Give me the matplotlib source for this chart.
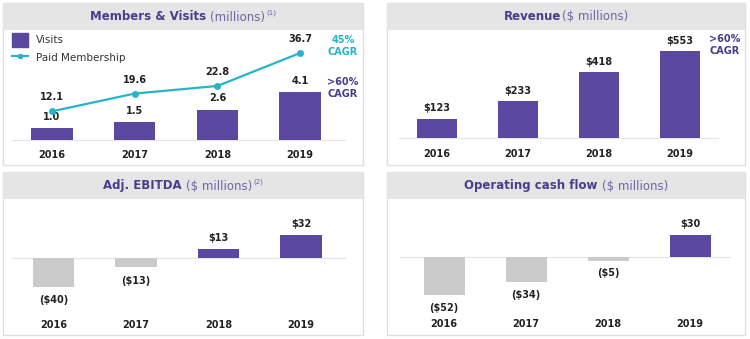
import matplotlib
matplotlib.use("Agg")
import matplotlib.pyplot as plt
from matplotlib.patches import Rectangle
from matplotlib.lines import Line2D

years = ["2016", "2017", "2018", "2019"]
visits = [1.0, 1.5, 2.6, 4.1]
membership = [12.1, 19.6, 22.8, 36.7]
revenue = [123, 233, 418, 553]
ebitda = [-40, -13, 13, 32]
op_cash_flow = [-52, -34, -5, 30]

visit_labels = ["1.0", "1.5", "2.6", "4.1"]
member_labels = ["12.1", "19.6", "22.8", "36.7"]

PURPLE = "#5a479f"
GRAY_BAR = "#cbcbcb"
TEAL = "#27b4c8"
HEADER = "#e5e5e5"
BORDER = "#e0e0e0"
TITLE_C = "#4a3b8c"
SUB_C = "#6e64a2"
TXT = "#222222"

plt.rcParams["font.family"] = ["DejaVu Sans"]

W, H = 750, 339
fig = plt.figure(figsize=(W / 100, H / 100), dpi=100)


def frac(x0, y0, x1, y1):
    return [x0 / W, 1 - y1 / H, (x1 - x0) / W, (y1 - y0) / H]


def make_panel(x0, y0, x1, y1, head_bottom, first_center, spacing, baseline, ppu, line_x):
    fig.add_artist(Rectangle((x0 / W, 1 - y1 / H), (x1 - x0) / W, (y1 - y0) / H,
                             transform=fig.transFigure, facecolor="white",
                             edgecolor=BORDER, lw=1, zorder=-2))
    fig.add_artist(Rectangle((x0 / W, 1 - head_bottom / H), (x1 - x0) / W,
                             (head_bottom - y0) / H, transform=fig.transFigure,
                             facecolor=HEADER, edgecolor="none", zorder=-1))
    ax = fig.add_axes(frac(x0, head_bottom, x1, y1))
    ax.set_xlim((x0 - first_center) / spacing, (x1 - first_center) / spacing)
    ax.set_ylim(-(y1 - baseline) / ppu, (baseline - head_bottom) / ppu)
    ax.axis("off")
    ax.axhline(0, xmin=(line_x[0] - x0) / (x1 - x0), xmax=(line_x[1] - x0) / (x1 - x0),
               color="#e6e6e6", lw=0.8, zorder=0)

    # pixel row -> data value (for year labels)
    def py(y_px):
        return (baseline - y_px) / ppu
    return ax, py


def title(parts, cx, cy):
    renderer = fig.canvas.get_renderer()
    items = []
    for s, weight, size, color, dy, gap in parts:
        t = fig.text(0, 1 - (cy - dy) / H, s, fontsize=size, fontweight=weight,
                     color=color, ha="left", va="center")
        w = t.get_window_extent(renderer).width
        items.append((t, w, gap))
    total = sum(w + g for _, w, g in items)
    x = cx - total / 2
    for t, w, g in items:
        x += g
        t.set_x(x / W)
        x += w


def bar_labels(ax, values, labels, up=5, down=6):
    for i, (v, s) in enumerate(zip(values, labels)):
        if v >= 0:
            ax.annotate(s, (i, v), xytext=(0, up), textcoords="offset points",
                        ha="center", va="bottom", fontsize=7, fontweight="bold", color=TXT)
        else:
            ax.annotate(s, (i, v), xytext=(0, -down), textcoords="offset points",
                        ha="center", va="top", fontsize=7, fontweight="bold", color=TXT)


def year_labels(ax, y):
    for i, yr in enumerate(years):
        ax.text(i, y, yr, ha="center", va="center", fontsize=7, fontweight="bold", color=TXT)


def money(v):
    return f"${v}" if v >= 0 else f"(${-v})"


x = range(len(years))

# ---- Members & Visits
ax1, py1 = make_panel(3, 3, 363, 165, 30, 52, 82.7, 140, 11.7, (12, 345))
ax1.bar(x, visits, width=0.5, color=PURPLE, zorder=2)
bar_labels(ax1, visits, visit_labels, up=4.5)
year_labels(ax1, py1(155))
ax1b = ax1.twinx()
ax1b.set_ylim(-25 / 2.37, 110 / 2.37)
ax1b.axis("off")
ax1b.plot(x, membership, color=TEAL, lw=1.6, marker="o", ms=4, zorder=3)
for i, (v, s) in enumerate(zip(membership, member_labels)):
    ax1b.annotate(s, (i, v), xytext=(0, 6.5), textcoords="offset points",
                  ha="center", va="bottom", fontsize=7, fontweight="bold", color=TXT)
ax1.legend([Rectangle((0, 0), 1, 1, color=PURPLE),
            Line2D([0], [0], color=TEAL, lw=1.6, marker="o", ms=3)],
           ["Visits", "Paid Membership"], loc="upper left",
           bbox_to_anchor=(12 / W, 1 - 33 / H), bbox_transform=fig.transFigure,
           frameon=False, fontsize=7.5, handlelength=1.5, handleheight=1.7,
           handletextpad=0.8, labelspacing=0.35, borderpad=0, borderaxespad=0,
           labelcolor="#333333")
fig.text(343 / W, 1 - 46 / H, "45%\nCAGR", ha="center", va="center", fontsize=7,
         fontweight="bold", color=TEAL, linespacing=1.15)
fig.text(343 / W, 1 - 88 / H, ">60%\nCAGR", ha="center", va="center", fontsize=7,
         fontweight="bold", color=TITLE_C, linespacing=1.15)
title([("Members & Visits", "bold", 8.5, TITLE_C, 0, 0),
       ("(millions)", "normal", 8.5, SUB_C, 0, 4),
       ("(1)", "normal", 5, SUB_C, 4, 1)], 183, 17)

# ---- Revenue
ax2, py2 = make_panel(387, 3, 745, 165, 30, 437, 81, 138, 0.157, (399, 718))
ax2.bar(x, revenue, width=0.49, color=PURPLE, zorder=2)
bar_labels(ax2, revenue, [f"${v}" for v in revenue], up=4)
year_labels(ax2, py2(154))
fig.text(725 / W, 1 - 45 / H, ">60%\nCAGR", ha="center", va="center", fontsize=7,
         fontweight="bold", color=TITLE_C, linespacing=1.15)
title([("Revenue", "bold", 8.5, TITLE_C, 0, 0),
       ("($ millions)", "normal", 8.5, SUB_C, 0, 1)], 566, 17)

# ---- Adj. EBITDA
ax3, py3 = make_panel(3, 172, 363, 335, 199, 53.5, 82.5, 258, 0.72, (12, 345))
ax3.bar(x, ebitda, width=0.5, color=[PURPLE if v >= 0 else GRAY_BAR for v in ebitda], zorder=2)
bar_labels(ax3, ebitda, [money(v) for v in ebitda], up=4, down=6)
year_labels(ax3, py3(325))
title([("Adj. EBITDA", "bold", 8.5, TITLE_C, 0, 0),
       ("($ millions)", "normal", 8.5, SUB_C, 0, 4),
       ("(2)", "normal", 5, SUB_C, 4, 1)], 183, 186)

# ---- Operating cash flow
ax4, py4 = make_panel(387, 172, 745, 335, 199, 444, 82, 257, 0.74, (400, 730))
ax4.bar(x, op_cash_flow, width=0.5,
        color=[PURPLE if v >= 0 else GRAY_BAR for v in op_cash_flow], zorder=2)
bar_labels(ax4, op_cash_flow, [money(v) for v in op_cash_flow], up=4, down=5.5)
year_labels(ax4, py4(324))
title([("Operating cash flow", "bold", 8.5, TITLE_C, 0, 0),
       ("($ millions)", "normal", 8.5, SUB_C, 0, 4)], 566, 186)

fig.savefig("out.png", dpi=100, facecolor="white")
